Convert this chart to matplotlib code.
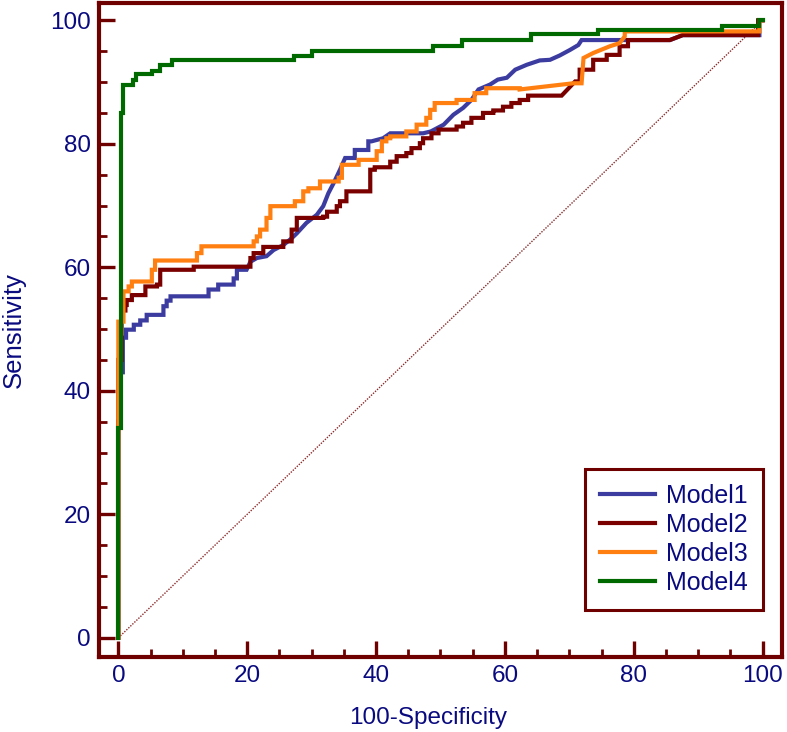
import numpy as np
import matplotlib
matplotlib.use('Agg')
import matplotlib.pyplot as plt
from matplotlib.ticker import MultipleLocator

plt.rcParams['font.family'] = ['Liberation Sans', 'DejaVu Sans']

# ROC curves (100-Specificity, Sensitivity)
m1_x = [0, 0, 0.3, 0.3, 0.7, 0.7, 1.2, 1.2, 2.4, 2.4, 3.4, 3.4, 4.4, 4.4, 7.0, 7.0, 7.5, 7.5, 8.1, 8.1,
        14.0, 14.0, 15.5, 15.5, 16.1, 16.1, 17.9, 17.9, 18.4, 18.4, 19.9, 20.5, 21.5, 23.0, 24.1, 25.6,
        26.9, 27.7, 29.2, 30.8, 31.8, 32.6, 33.4, 34.4, 35.2, 36.7, 36.7, 37.5, 38.8, 38.8, 39.3, 41.1,
        42.2, 47.3, 48.5, 50.5, 52.0, 53.5, 54.8, 55.9, 57.7, 58.9, 60.3, 61.6, 63.4, 65.4, 67.0, 68.5,
        70.1, 71.4, 71.9, 85.6, 87.6, 99.5, 99.5, 100]
m1_y = [0, 35, 35, 43, 43, 48.6, 48.6, 49.9, 49.9, 50.7, 50.7, 51.4, 51.4, 52.3, 52.3, 53.7, 53.7, 54.6, 54.6,
        55.3, 55.3, 56.4, 56.4, 57.2, 57.2, 57.2, 57.2, 58.2, 58.2, 59.6, 59.6, 60.9, 61.5, 61.8, 62.8, 63.6,
        64.7, 65.5, 67.2, 68.5, 69.9, 72.0, 73.6, 75.8, 77.7, 77.7, 79.0, 79.0, 79.0, 80.4, 80.4, 80.9,
        81.7, 81.7, 82.0, 83.1, 84.7, 85.8, 87.1, 88.8, 89.6, 90.4, 90.7, 92.0, 92.8, 93.5, 93.6, 94.3,
        95.2, 96.0, 96.8, 96.8, 97.6, 97.6, 100, 100]

m2_x = [0, 0, 0.5, 0.5, 1.1, 1.1, 1.3, 1.3, 2.1, 2.1, 4.2, 4.2, 6.0, 6.0, 6.5, 6.5, 11.7, 11.7, 20.5, 20.5,
        21.0, 21.0, 22.5, 22.5, 25.6, 25.6, 26.9, 26.9, 27.7, 27.7, 31.8, 31.8, 32.4, 32.4, 33.9, 33.9, 34.4,
        34.4, 35.4, 35.4, 39.1, 39.1, 39.8, 39.8, 42.2, 42.2, 43.2, 43.2, 44.7, 44.7, 45.5, 45.5, 46.8, 46.8,
        47.3, 47.3, 48.6, 48.6, 49.7, 49.7, 52.5, 52.5, 53.5, 53.5, 54.8, 54.8, 56.6, 56.6, 58.2, 58.2, 59.7,
        59.7, 61.0, 61.0, 62.3, 62.3, 63.6, 63.6, 68.8, 70.9, 71.6, 71.6, 73.7, 73.7, 75.8, 75.8, 77.8, 77.8,
        79.1, 79.1, 85.6, 87.6, 99.3, 99.3, 100]
m2_y = [0, 45, 45, 53, 53, 53.9, 53.9, 54.7, 54.7, 55.5, 55.5, 56.9, 56.9, 57.2, 57.2, 59.6, 59.6, 60.1, 60.1,
        61.5, 61.5, 62.3, 62.3, 63.3, 63.3, 64.2, 64.2, 66.1, 66.1, 68.0, 68.0, 68.2, 68.2, 69.0, 69.0, 69.9,
        69.9, 70.7, 70.7, 72.3, 72.3, 75.8, 75.8, 76.2, 76.2, 77.1, 77.1, 78.0, 78.0, 78.5, 78.5, 79.3, 79.3,
        80.1, 80.1, 80.9, 80.9, 81.7, 81.7, 82.3, 82.3, 82.8, 82.8, 83.4, 83.4, 84.2, 84.2, 85.0, 85.0, 85.4,
        85.4, 86.0, 86.0, 86.6, 86.6, 87.1, 87.1, 87.8, 87.8, 90.1, 90.1, 92.0, 92.0, 93.6, 93.6, 94.4, 94.4,
        95.8, 95.8, 96.8, 96.8, 97.6, 97.6, 100, 100]

m3_x = [0, 0, 0.8, 0.8, 1.6, 1.6, 2.1, 2.1, 5.2, 5.2, 5.7, 5.7, 7.0, 7.0, 12.2, 12.2, 12.9, 12.9, 21.0, 21.0,
        21.5, 21.5, 22.0, 22.0, 23.0, 23.0, 23.6, 23.6, 27.4, 27.4, 28.7, 28.7, 29.5, 29.5, 31.3, 31.3, 34.2,
        34.2, 34.7, 34.7, 37.3, 37.3, 40.1, 40.1, 40.9, 40.9, 41.6, 41.6, 42.2, 42.2, 44.7, 44.7, 46.3, 46.3,
        47.8, 47.8, 48.4, 48.4, 49.1, 49.1, 52.5, 52.5, 55.3, 55.3, 57.1, 57.1, 62.3, 62.3, 70.6, 71.9, 72.2,
        72.2, 73.7, 73.7, 76.3, 76.3, 77.8, 77.8, 78.6, 78.6, 99.5, 99.5, 100]
m3_y = [0, 51.2, 51.2, 56.1, 56.1, 56.9, 56.9, 57.7, 57.7, 59.6, 59.6, 61.1, 61.1, 61.1, 61.1, 62.3, 62.3, 63.4,
        63.4, 64.2, 64.2, 65.0, 65.0, 66.1, 66.1, 68.0, 68.0, 69.9, 69.9, 70.7, 70.7, 72.3, 72.3, 72.8, 72.8,
        73.9, 73.9, 74.5, 74.5, 76.6, 76.6, 77.4, 77.4, 78.8, 78.8, 80.4, 80.4, 80.9, 80.9, 81.2, 81.2, 82.0,
        82.0, 83.1, 83.1, 84.2, 84.2, 85.5, 85.5, 86.6, 86.6, 87.1, 87.1, 88.2, 88.2, 89.0, 89.0, 88.8,
        89.8, 89.8, 93.9, 93.9, 94.7, 94.7, 95.8, 95.8, 96.3, 96.3, 97.4, 98.2, 98.2, 100, 100]

m4_x = [0, 0, 0.4, 0.4, 0.8, 0.8, 2.3, 2.3, 2.8, 2.8, 5.2, 5.2, 6.4, 6.4, 8.3, 8.3, 27.3, 27.3, 30.0, 30.0,
        48.8, 48.8, 53.3, 53.3, 64.1, 64.1, 74.4, 74.4, 93.7, 93.7, 99.5, 99.5, 100]
m4_y = [0, 34, 34, 85, 85, 89.6, 89.6, 90.4, 90.4, 91.3, 91.3, 91.8, 91.8, 92.8, 92.8, 93.5, 93.5, 94.2, 94.2,
        95.1, 95.1, 95.8, 95.8, 96.8, 96.8, 97.7, 97.7, 98.4, 98.4, 99.1, 99.1, 100, 100]

labels = ['Model1', 'Model2', 'Model3', 'Model4']
colors = ['#3c3ca0', '#7a0000', '#ff7f10', '#006a00']
frame = '#6e0000'
txt = '#0a0a80'

fig = plt.figure(figsize=(7.87, 7.32), dpi=100)
ax = fig.add_axes([0.1258, 0.1025, 0.8678, 0.8934])

ax.plot([0, 100], [0, 100], color='#8a2a2a', lw=1.0, ls=(0, (1, 1)))
for xs, ys, c, lab in zip([m1_x, m2_x, m3_x, m4_x], [m1_y, m2_y, m3_y, m4_y], colors, labels):
    ax.plot(xs, ys, color=c, lw=3.0, label=lab, solid_joinstyle='miter')

ax.set_xlim(-3.0, 103.0)
ax.set_ylim(-3.1, 102.8)
ax.xaxis.set_major_locator(MultipleLocator(20))
ax.xaxis.set_minor_locator(MultipleLocator(5))
ax.yaxis.set_major_locator(MultipleLocator(20))
ax.yaxis.set_minor_locator(MultipleLocator(5))

for s in ax.spines.values():
    s.set_color(frame)
    s.set_linewidth(3.0)

ax.tick_params(which='both', direction='in', color=frame, top=False, right=False,
               labelcolor=txt, labelsize=17.5, pad=6)
ax.tick_params(which='major', length=11.5, width=2.4)
ax.tick_params(which='minor', length=5.8, width=2.0)

ax.set_xlabel('100-Specificity', color=txt, fontsize=17.5, labelpad=14)
ax.xaxis.label.set_x(0.482)
ax.set_ylabel('Sensitivity', color=txt, fontsize=18.5, labelpad=17)

leg = ax.legend(loc='lower right', bbox_to_anchor=(0.972, 0.072), fontsize=18, handlelength=2.2,
                handletextpad=0.45, labelspacing=0.2, borderpad=0.6, borderaxespad=0.0,
                fancybox=False, framealpha=1, edgecolor=frame)
leg.get_frame().set_linewidth(2.2)
for t in leg.get_texts():
    t.set_color(txt)

fig.savefig('out.png', dpi=100)
